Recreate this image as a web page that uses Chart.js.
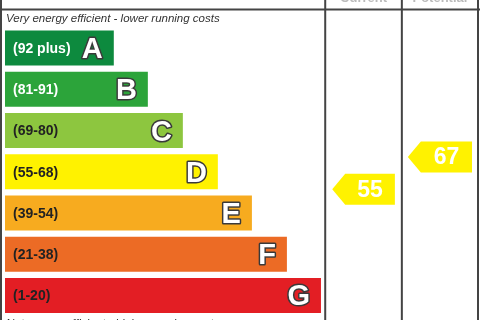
<!DOCTYPE html>
<html>
<head>
<meta charset="utf-8">
<script src="https://cdn.jsdelivr.net/npm/chart.js@4"></script>
<style>
  html, body { margin: 0; padding: 0; background: #fff; }
  #wrap { width: 480px; height: 320px; position: relative; }
</style>
</head>
<body>
<div id="wrap"><canvas id="epc"></canvas></div>
<script>
// EPC bands, top (most efficient) to bottom
const bands = ['A', 'B', 'C', 'D', 'E', 'F', 'G'];
const rangeLabels = ['(92 plus)', '(81-91)', '(69-80)', '(55-68)', '(39-54)', '(21-38)', '(1-20)'];
const rangeLow = [92, 81, 69, 55, 39, 21, 1];
const rangeHigh = [100, 91, 80, 68, 54, 38, 20];
const barLengths = [23.0, 30.2, 37.6, 45.0, 52.2, 59.6, 66.8];
const currentRating = 55;
const potentialRating = 67;

const bandColors = ['#0d8a3e', '#2ca43a', '#8dc63f', '#fff200', '#f7ab1f', '#ec6b25', '#e31e24'];
const labelColors = ['#fff', '#fff', '#222', '#222', '#222', '#222', '#222'];
// column dividers on the x scale (0..100)
const colCurrent = 67.7, colPotential = 83.9;

const font = '"Liberation Sans", Arial, sans-serif';

const epcPlugin = {
  id: 'epc',
  afterDatasetsDraw(chart) {
    const ctx = chart.ctx;
    const xs = chart.scales.x, ys = chart.scales.y;
    const meta = chart.getDatasetMeta(0);
    ctx.save();

    // labels and letters inside bars
    meta.data.forEach((bar, i) => {
      ctx.textBaseline = 'middle';
      ctx.textAlign = 'left';
      ctx.font = 'bold 14px ' + font;
      ctx.fillStyle = labelColors[i];
      ctx.fillText(rangeLabels[i], bar.base + 8, bar.y + 1);

      ctx.textAlign = 'right';
      ctx.font = 'bold 29px ' + font;
      ctx.lineWidth = 3;
      ctx.strokeStyle = '#3a3a3a';
      ctx.lineJoin = 'round';
      ctx.strokeText(bands[i], bar.x - 11, bar.y + 2);
      ctx.fillStyle = '#fff';
      ctx.fillText(bands[i], bar.x - 11, bar.y + 2);
    });

    // grid lines
    const top = chart.chartArea.top;
    ctx.strokeStyle = '#444';
    ctx.lineWidth = 2;
    ctx.beginPath();
    ctx.moveTo(0, 9.5); ctx.lineTo(480, 9.5);
    [xs.left - 4, xs.getPixelForValue(colCurrent), xs.getPixelForValue(colPotential), xs.getPixelForValue(100)].forEach(x => {
      ctx.moveTo(x, 0); ctx.lineTo(x, 320);
    });
    ctx.stroke();

    // header (cut off at top) and footer text
    ctx.fillStyle = '#bbb';
    ctx.font = 'bold 13px ' + font;
    ctx.textAlign = 'center';
    ctx.textBaseline = 'alphabetic';
    ctx.fillText('Current', (xs.getPixelForValue(colCurrent) + xs.getPixelForValue(colPotential)) / 2, 2);
    ctx.fillText('Potential', (xs.getPixelForValue(colPotential) + xs.getPixelForValue(100)) / 2, 2);

    ctx.fillStyle = '#333';
    ctx.font = 'italic 11.5px ' + font;
    ctx.textAlign = 'left';
    ctx.textBaseline = 'middle';
    ctx.fillText('Very energy efficient - lower running costs', xs.left + 1, 19);
    ctx.fillText('Not energy efficient - higher running costs', xs.left + 1, 324);

    // rating arrows
    const barH = meta.data[0].height;
    function ratingY(v) {
      let i = rangeLow.findIndex((lo, k) => v >= lo && v <= rangeHigh[k]);
      const frac = (v - rangeLow[i]) / (rangeHigh[i] - rangeLow[i]);
      return ys.getPixelForValue(i) + barH / 2 - frac * barH;
    }
    function arrow(v, x0, x1) {
      const y = ratingY(v), h = 31, tip = 13;
      ctx.fillStyle = '#fff200';
      ctx.beginPath();
      ctx.moveTo(x0, y);
      ctx.lineTo(x0 + tip, y - h / 2);
      ctx.lineTo(x1, y - h / 2);
      ctx.lineTo(x1, y + h / 2);
      ctx.lineTo(x0 + tip, y + h / 2);
      ctx.closePath();
      ctx.fill();
      ctx.fillStyle = '#fff';
      ctx.font = 'bold 23px ' + font;
      ctx.textAlign = 'center';
      ctx.textBaseline = 'middle';
      ctx.fillText(String(v), (x0 + tip + x1) / 2, y + 1);
    }
    arrow(currentRating, xs.getPixelForValue(colCurrent) + 7, xs.getPixelForValue(colPotential) - 7);
    arrow(potentialRating, xs.getPixelForValue(colPotential) + 6, xs.getPixelForValue(100) - 6);

    ctx.restore();
  }
};

new Chart(document.getElementById('epc'), {
  type: 'bar',
  data: {
    labels: bands,
    datasets: [{
      data: barLengths,
      backgroundColor: bandColors,
      borderWidth: 0,
      barPercentage: 0.85,
      categoryPercentage: 1
    }]
  },
  options: {
    indexAxis: 'y',
    responsive: true,
    maintainAspectRatio: false,
    animation: false,
    layout: { padding: { left: 5, right: 2, top: 27.4, bottom: 3.9 } },
    scales: {
      x: { display: false, min: 0, max: 100 },
      y: { display: false }
    },
    plugins: { legend: { display: false }, tooltip: { enabled: false } }
  },
  plugins: [epcPlugin]
});
</script>
</body>
</html>
